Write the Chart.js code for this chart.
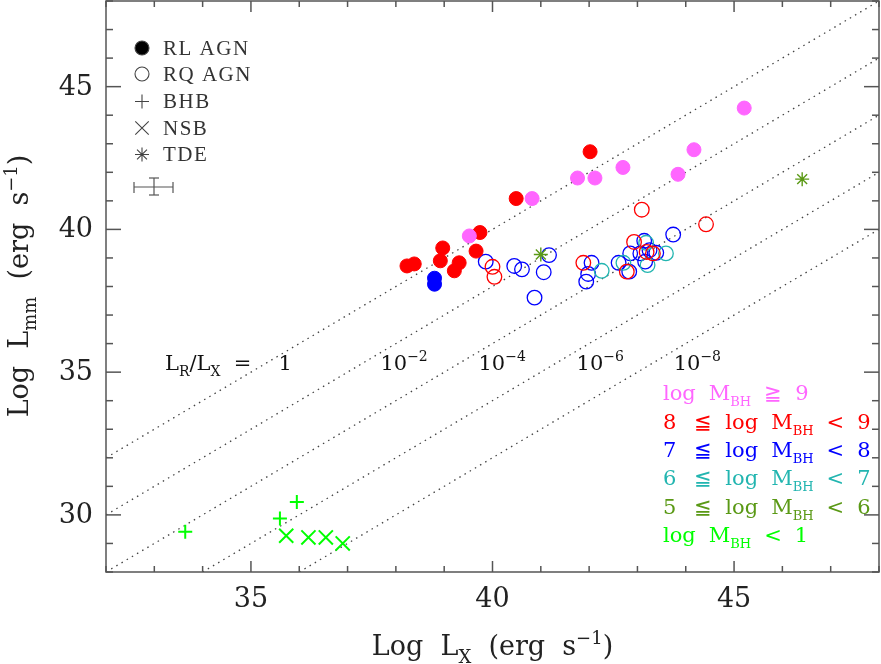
<!DOCTYPE html>
<html>
<head>
<meta charset="utf-8">
<script src="https://cdn.jsdelivr.net/npm/chart.js@4.4.1/dist/chart.umd.min.js"></script>
<style>
  html, body { margin: 0; padding: 0; background: #fff; }
  #wrap { width: 881px; height: 664px; }
</style>
</head>
<body>
<div id="wrap"><canvas id="myCanvas" width="881" height="664"></canvas></div>
<script>
'use strict';

// radio loud AGN (filled circles), by black hole mass bin  [log Lx, log Lmm]
const rlAgnMass9 = [[39.52, 39.77], [40.82, 41.08], [41.76, 41.80], [42.12, 41.80], [42.70, 42.17], [43.84, 41.93], [44.17, 42.79], [45.21, 44.25]];
const rlAgnMass8 = [[38.23, 38.72], [38.38, 38.79], [38.97, 39.35], [38.92, 38.90], [39.31, 38.83], [39.21, 38.55], [39.74, 39.89], [39.66, 39.24], [40.49, 41.08], [42.02, 42.72]];
const rlAgnMass7 = [[38.80, 38.29], [38.80, 38.08]];

// radio quiet AGN (open circles)
const rqAgnMass8 = [[40.00, 38.69], [40.04, 38.34], [41.88, 38.83], [42.78, 38.52], [42.93, 39.56], [43.32, 39.16], [43.19, 39.21], [43.09, 40.69], [44.42, 40.18]];
const rqAgnMass7 = [[39.86, 38.87], [40.45, 38.72], [40.61, 38.60], [41.17, 39.10], [41.06, 38.50], [40.87, 37.61], [42.05, 38.83], [41.98, 38.44], [41.94, 38.17], [42.61, 38.83], [42.83, 38.52], [42.85, 39.16], [43.14, 39.60], [43.25, 39.27], [43.06, 39.16], [43.39, 39.18], [43.16, 38.87], [43.74, 39.82]];
const rqAgnMass6 = [[42.26, 38.55], [42.71, 38.83], [43.18, 39.53], [43.59, 39.16], [43.21, 38.75]];

// tidal disruption events, black hole binaries, neutron star binaries
const tdeMass5 = [[41.00, 39.12], [46.41, 41.76]];
const bhb = [[33.64, 29.41], [35.60, 29.87], [35.95, 30.45]];
const nsb = [[35.73, 29.27], [36.19, 29.21], [36.55, 29.21], [36.90, 29.00]];

// constant L_R/L_X lines, log offsets
const ratioOffsets = [0, -2, -4, -6, -8];
const ratioLabels = ['1', '-2', '-4', '-6', '-8'];

const xRange = [32, 48];
const yRange = [28, 48];
const xTickLabels = [35, 40, 45];
const yTickLabels = [30, 35, 40, 45];

const pink = '#ff66ff';
const red = '#ff0000';
const blue = '#0000ff';
const teal = '#22b5b0';
const olive = '#5a9915';
const green = '#00ff00';
const ink = '#333';
const frameCol = '#555';
const serif = '"DejaVu Serif", serif';

function pts(arr) {
  return arr.map(p => ({x: p[0], y: p[1]}));
}

function dots(label, arr, color, filled, style, r, bw) {
  return {
    label: label,
    data: pts(arr),
    showLine: false,
    pointStyle: style,
    pointRadius: r,
    pointHoverRadius: r,
    pointBorderWidth: bw,
    pointBackgroundColor: filled ? color : 'rgba(0,0,0,0)',
    pointBorderColor: color,
  };
}

function ratioLine(k) {
  // clip y = x + k to the plot box
  let x0 = Math.max(xRange[0], yRange[0] - k);
  let x1 = Math.min(xRange[1], yRange[1] - k);
  return {
    type: 'line',
    data: [{x: x0, y: x0 + k}, {x: x1, y: x1 + k}],
    borderColor: '#444',
    borderWidth: 1.3,
    borderDash: [1.5, 4.5],
    pointRadius: 0,
    fill: false,
  };
}

// rich text: parts = [text, kind] kind 0 normal, 1 sub, 2 sup
function drawRich(ctx, parts, x, y, size, align, subScale) {
  let small = Math.round(size * (subScale || 0.65));
  let w = 0;
  parts.forEach(p => {
    ctx.font = (p[1] ? small : size) + 'px ' + serif;
    w += ctx.measureText(p[0]).width;
  });
  let cx = x;
  if (align === 'center') cx = x - w / 2;
  if (align === 'right') cx = x - w;
  ctx.textAlign = 'left';
  ctx.textBaseline = 'alphabetic';
  parts.forEach(p => {
    ctx.font = (p[1] ? small : size) + 'px ' + serif;
    let dy = 0;
    if (p[1] === 1) dy = size * 0.28;
    if (p[1] === 2) dy = -size * 0.42;
    ctx.fillText(p[0], cx, y + dy);
    cx += ctx.measureText(p[0]).width;
  });
  return w;
}

function seg(ctx, x0, y0, x1, y1) {
  ctx.beginPath();
  ctx.moveTo(x0, y0);
  ctx.lineTo(x1, y1);
  ctx.stroke();
}

const decor = {
  id: 'decor',
  afterDraw(chart) {
    const ctx = chart.ctx;
    const a = chart.chartArea;
    const xs = chart.scales.x;
    const ys = chart.scales.y;
    ctx.save();

    // frame and inward ticks on all sides
    ctx.strokeStyle = frameCol;
    ctx.lineWidth = 1.5;
    ctx.strokeRect(a.left, a.top, a.right - a.left, a.bottom - a.top);
    for (let v = xRange[0]; v <= xRange[1]; v++) {
      let px = xs.getPixelForValue(v);
      let len = v % 5 === 0 ? 11 : 6;
      seg(ctx, px, a.bottom, px, a.bottom - len);
      seg(ctx, px, a.top, px, a.top + len);
    }
    for (let v = yRange[0]; v <= yRange[1]; v++) {
      let py = ys.getPixelForValue(v);
      let len = v % 5 === 0 ? 15 : 7;
      seg(ctx, a.left, py, a.left + len, py);
      seg(ctx, a.right, py, a.right - len, py);
    }

    // tick numbers
    ctx.fillStyle = '#222';
    ctx.font = '27px ' + serif;
    ctx.textAlign = 'center';
    ctx.textBaseline = 'alphabetic';
    xTickLabels.forEach(v => ctx.fillText(String(v), xs.getPixelForValue(v), 607));
    ctx.textAlign = 'right';
    ctx.textBaseline = 'middle';
    yTickLabels.forEach(v => ctx.fillText(String(v), a.left - 13, ys.getPixelForValue(v) + 1));

    // axis titles
    drawRich(ctx, [['Log  L', 0], ['X', 1], ['  (erg  s', 0], ['\u22121', 2], [')', 0]], (a.left + a.right) / 2, 655, 27, 'center');
    ctx.save();
    ctx.translate(28, 286);
    ctx.rotate(-Math.PI / 2);
    drawRich(ctx, [['Log  L', 0], ['mm', 1], ['  (erg  s', 0], ['\u22121', 2], [')', 0]], 0, 0, 27, 'center');
    ctx.restore();

    // ratio line labels
    ctx.fillStyle = '#111';
    const labX = [35.71, 38.17, 40.2, 42.23, 44.24];
    const labY = ys.getPixelForValue(35.36) + 8;
    drawRich(ctx, [['L', 0], ['R', 1], ['/L', 0], ['X', 1], ['  =', 0]], 165, labY, 21, 'left');
    ratioLabels.forEach((t, i) => {
      let px = xs.getPixelForValue(labX[i]);
      if (t === '1') drawRich(ctx, [['1', 0]], px, labY, 21, 'center');
      else drawRich(ctx, [['10', 0], ['\u2212' + t.slice(1), 2]], px, labY, 21, 'center');
    });

    // symbol key, upper left
    const symX = 142;
    const txtX = 163;
    const rows = [48, 74, 101.5, 128, 154.5];
    const names = ['RL AGN', 'RQ AGN', 'BHB', 'NSB', 'TDE'];
    const styles = ['circle', 'circle', 'cross', 'crossRot', 'star'];
    const radii = [7, 7, 7, 9.5, 7];
    ctx.strokeStyle = '#444';
    ctx.lineWidth = 1.1;
    rows.forEach((y, i) => {
      ctx.fillStyle = i === 0 ? '#000' : 'rgba(0,0,0,0)';
      Chart.helpers.drawPoint(ctx, {pointStyle: styles[i], radius: radii[i], borderWidth: 1.1, rotation: 0}, symX, y);
      ctx.fillStyle = ink;
      ctx.font = '21px "Liberation Serif", serif';
      ctx.letterSpacing = '1.5px';
      ctx.textAlign = 'left';
      ctx.textBaseline = 'middle';
      ctx.fillText(names[i], txtX, y + 1);
      ctx.letterSpacing = '0px';
    });
    // typical error bar
    ctx.strokeStyle = '#555';
    ctx.lineWidth = 1.2;
    seg(ctx, 134, 187, 173, 187);
    seg(ctx, 134, 182, 134, 193);
    seg(ctx, 173, 182, 173, 193);
    seg(ctx, 154, 178, 154, 195);
    seg(ctx, 149, 178, 159, 178);
    seg(ctx, 149, 195, 159, 195);

    // mass key, lower right
    const massRows = [
      ['log', 'M|BH', '\u2267', '9'],
      ['8', '\u2266', 'log', 'M|BH', '<', '9'],
      ['7', '\u2266', 'log', 'M|BH', '<', '8'],
      ['6', '\u2266', 'log', 'M|BH', '<', '7'],
      ['5', '\u2266', 'log', 'M|BH', '<', '6'],
      ['log', 'M|BH', '<', '1'],
    ];
    const massCols = [pink, red, blue, teal, olive, green];
    const massY = [400, 429, 457, 485, 514, 542];
    massRows.forEach((row, i) => {
      ctx.fillStyle = massCols[i];
      let x = 663;
      row.forEach(tok => {
        let parts = tok === 'M|BH' ? [['M', 0], ['BH', 1]] : [[tok, 0]];
        let w = drawRich(ctx, parts, x, massY[i], 21, 'left', 0.6);
        x += w + (tok === '8' || tok === '7' || tok === '6' || tok === '5' ? 18 : 13);
      });
    });

    ctx.restore();
  }
};

const datasets = [
  dots('TDE', tdeMass5, olive, false, 'star', 7, 1.4),
  dots('NSB', nsb, green, false, 'crossRot', 10, 2),
  dots('BHB', bhb, green, false, 'cross', 7, 2),
  dots('RL 9', rlAgnMass9, pink, true, 'circle', 7, 1),
  dots('RL 8', rlAgnMass8, red, true, 'circle', 7, 1),
  dots('RL 7', rlAgnMass7, blue, true, 'circle', 7, 1),
  dots('RQ 8', rqAgnMass8, red, false, 'circle', 7.3, 1.3),
  dots('RQ 6', rqAgnMass6, teal, false, 'circle', 7.3, 1.3),
  dots('RQ 7', rqAgnMass7, blue, false, 'circle', 7.3, 1.3),
];
ratioOffsets.forEach(k => datasets.push(ratioLine(k)));

const ctx = document.getElementById('myCanvas').getContext('2d');
const myChart = new Chart(ctx, {
  type: 'scatter',
  data: {datasets: datasets},
  plugins: [decor],
  options: {
    responsive: false,
    animation: false,
    devicePixelRatio: 1,
    layout: {autoPadding: false, padding: {top: 1, right: 2, left: 0, bottom: 0}},
    plugins: {legend: {display: false}, tooltip: {enabled: false}},
    scales: {
      x: {
        type: 'linear',
        min: xRange[0],
        max: xRange[1],
        afterFit: s => { s.height = 92; s.paddingLeft = 0; s.paddingRight = 0; },
        grid: {display: false, drawTicks: false},
        border: {display: false},
        ticks: {display: false, stepSize: 1},
      },
      y: {
        type: 'linear',
        min: yRange[0],
        max: yRange[1],
        afterFit: s => { s.width = 106; s.paddingTop = 0; s.paddingBottom = 0; },
        grid: {display: false, drawTicks: false},
        border: {display: false},
        ticks: {display: false, stepSize: 1},
      },
    },
  },
});
</script>
</body>
</html>
